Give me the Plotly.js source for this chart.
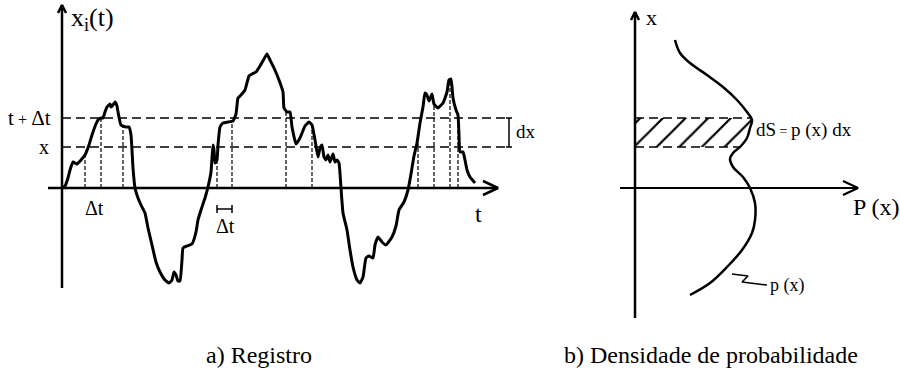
<!DOCTYPE html>
<html>
<head>
<meta charset="utf-8">
<script src="https://cdn.plot.ly/plotly-3.0.1.min.js"></script>
<style>html,body{margin:0;padding:0;background:#fff}#chart{width:900px;height:376px}</style>
</head>
<body>
<div id="chart"></div>
<script>
// ---- a) Registro : sample record x_i(t) ----
var recT = [0,3,6,8,11,15,19,23,27,30,34,36,39,41,43,45,48,49,51,53,55,56,59,64,67,69,71,73,76,79,83,86,90,94,98,103,107,110,112,114,116,118,120,121,125,130,134,136,139,143,146,149,150,151,152,153,155,156,158,161,166,171,174,176,179,183,187,190,194,198,202,205,208,212,217,221,222,225,228,230,234,238,243,247,250,253,256,258,260,262,264,266,268,271,273,275,277,279,281,285,288,291,295,298,301,304,307,311,313,316,320,324,330,334,337,342,346,349,352,355,358,361,363,365,367,370,372,376,381,385,387,389,391,394,396,397,398,401,403,405,408,413];
var recX = [0,2,10,18,26,24,28,33,43,53,64,68,70,70,76,81,84,81,83,86,82,76,63,61,61,53,20,0,-10,-17,-25,-40,-57,-74,-84,-92,-95,-92,-84,-87,-93,-93,-72,-60,-58,-56,-44,-32,-22,-10,1,16,30,43,38,25,28,43,61,65,66,67,74,90,93,98,112,114,116,122,129,134,128,120,108,96,80,76,76,61,44,50,62,66,63,48,31,40,43,31,28,33,26,34,26,28,25,0,-25,-42,-62,-79,-92,-95,-89,-70,-68,-70,-57,-49,-54,-57,-49,-38,-22,-14,-2,14,32,45,65,81,95,93,87,94,84,80,85,96,108,109,90,78,73,53,36,36,28,18,11,5];
// levels x and x+dx
var levelX = 41;
var levelXdx = 70;
var levelEndT = 443;
// crossing times (vertical dashed drops) and the record value where they meet the curve
var dropT = [23,39,61,155,170,224,250,356,372,388,396];
var dropV = [33,70,62,28,66,76,66,45,85,108,73];

// ---- b) Densidade de probabilidade : p(x) ----
var pdfP = [40,45,55,72,88,102,112,117,115,112,105,98,95,98,108,115,120,120,117,107,92,75,55];
var pdfX = [148,135,125,113,101,88,76,68,60,50,41,35,29,21,11,0,-15,-32,-45,-62,-79,-95,-107];
// hatched strip dS between the two levels
var stripP = [0,117,115,112,105,0];
var stripX = [70,70,60,50,41,41];

// ---- labels ----
var labelLeftTitle = 'x<sub>i</sub>(t)';
var labelRightTitle = 'x';
var labelTdt = 't\u2009<span style="font-size:16px">+</span>\u2009Δt';
var labelX = 'x';
var labelDt = 'Δt';
var labelT = 't';
var labelDx = 'dx';
var labelDS = 'dS<span style="font-size:14px"> = </span>p (x) dx';
var labelPx = 'P (x)';
var labelpx = 'p (x)';
var captionA = 'a) Registro';
var captionB = 'b) Densidade de probabilidade';

var F = 'Liberation Serif';
var K = '#000';

function arrowUp(x0, y0, y1, xa, ya) {
  return {x:[x0,x0,null,x0-4,x0,x0+4], y:[y0,y1,null,y1-8,y1,y1-8], xaxis:xa, yaxis:ya,
    mode:'lines', line:{color:K,width:2.5}, hoverinfo:'skip', showlegend:false};
}
function arrowRight(x0, x1, y0, xa, ya, w) {
  return {x:[x0,x1,null,x1-15,x1,x1-15], y:[y0,y0,null,y0+7,y0,y0-7], xaxis:xa, yaxis:ya,
    mode:'lines', line:{color:K,width:w}, hoverinfo:'skip', showlegend:false};
}

// vertical drops
var dx_ = [], dy_ = [];
for (var i = 0; i < dropT.length; i++) { dx_.push(dropT[i], dropT[i], null); dy_.push(0, dropV[i], null); }

var traces = [
  arrowUp(0, -100, 183, 'x', 'y'),
  arrowRight(-14, 436, 0, 'x', 'y', 2.5),
  {x:[0, levelEndT, null, 0, levelEndT], y:[levelXdx, levelXdx, null, levelX, levelX], xaxis:'x', yaxis:'y',
   mode:'lines', line:{color:K,width:1.5,dash:'9px,5px'}, hoverinfo:'skip', showlegend:false},
  {x:dx_, y:dy_, xaxis:'x', yaxis:'y', mode:'lines', line:{color:K,width:1.2,dash:'4px,2px'}, hoverinfo:'skip', showlegend:false},
  {x:recT, y:recX, xaxis:'x', yaxis:'y', mode:'lines', line:{color:K,width:3,shape:'spline',smoothing:0.4}, hoverinfo:'skip', showlegend:false},
  {x:[447,447,null,444,450,null,444,450], y:[levelX,levelXdx,null,levelX,levelX,null,levelXdx,levelXdx], xaxis:'x', yaxis:'y',
   mode:'lines', line:{color:K,width:1.5}, hoverinfo:'skip', showlegend:false},
  {x:[155,170,null,155,155,null,170,170], y:[-21,-21,null,-17,-25,null,-17,-25], xaxis:'x', yaxis:'y',
   mode:'lines', line:{color:K,width:1.5}, hoverinfo:'skip', showlegend:false},

  {x:stripP, y:stripX, xaxis:'x2', yaxis:'y2', mode:'none', fill:'toself', fillcolor:'rgba(0,0,0,0)',
   fillpattern:{shape:'/', size:16, solidity:0.14, fgcolor:K, bgcolor:'rgba(255,255,255,0)'}, hoverinfo:'skip', showlegend:false},
  {x:[0,117,null,0,105], y:[levelXdx,levelXdx,null,levelX,levelX], xaxis:'x2', yaxis:'y2',
   mode:'lines', line:{color:K,width:1.5,dash:'9px,5px'}, hoverinfo:'skip', showlegend:false},
  arrowUp(0, -130, 176, 'x2', 'y2'),
  arrowRight(-15, 223, 0, 'x2', 'y2', 2.2),
  {x:pdfP, y:pdfX, xaxis:'x2', yaxis:'y2', mode:'lines', line:{color:K,width:2.5,shape:'spline',smoothing:1}, hoverinfo:'skip', showlegend:false},
  {x:[97,113,107,132], y:[-86,-88,-94,-97], xaxis:'x2', yaxis:'y2', mode:'lines', line:{color:K,width:1.5}, hoverinfo:'skip', showlegend:false}
];

function ann(xref, yref, x, y, text, size, xanchor) {
  return {xref:xref, yref:yref, x:x, y:y, text:text, showarrow:false, xanchor:xanchor||'center', yanchor:'middle',
    font:{family:F, size:size, color:K}};
}
var annotations = [
  ann('x','y', 7, 169, labelLeftTitle, 26, 'left'),
  ann('x','y', -9, levelXdx, labelTdt, 21, 'right'),
  ann('x','y', -11, levelX, labelX, 20, 'right'),
  ann('x','y', 32, -20, labelDt, 20),
  ann('x','y', 163, -38, labelDt, 20),
  ann('x','y', 416, -26, labelT, 24),
  ann('x','y', 452, 57, labelDx, 19, 'left'),
  ann('x2','y2', 9, 171, labelRightTitle, 22, 'left'),
  ann('x2','y2', 119, 58, labelDS, 19, 'left'),
  ann('x2','y2', 216, -19, labelPx, 24, 'left'),
  ann('x2','y2', 133, -97, labelpx, 18, 'left'),
  ann('paper','paper', 259/900, 1-355/376, captionA, 24),
  ann('paper','paper', 711/900, 1-355/376, captionB, 24)
];

var hidden = {visible:false, showgrid:false, zeroline:false, fixedrange:true};
var layout = {
  width:900, height:376, margin:{l:0,r:0,t:0,b:0},
  font:{family:F, color:K},
  paper_bgcolor:'#fff', plot_bgcolor:'rgba(0,0,0,0)', showlegend:false,
  xaxis:Object.assign({domain:[0,600/900], range:[-62,538], anchor:'y'}, hidden),
  yaxis:Object.assign({domain:[0,1], range:[-188,188], anchor:'x'}, hidden),
  xaxis2:Object.assign({domain:[600/900,1], range:[-35,265], anchor:'y2'}, hidden),
  yaxis2:Object.assign({domain:[0,1], range:[-188,188], anchor:'x2'}, hidden),
  annotations:annotations
};
Plotly.newPlot('chart', traces, layout, {staticPlot:true, displayModeBar:false});
</script>
</body>
</html>
